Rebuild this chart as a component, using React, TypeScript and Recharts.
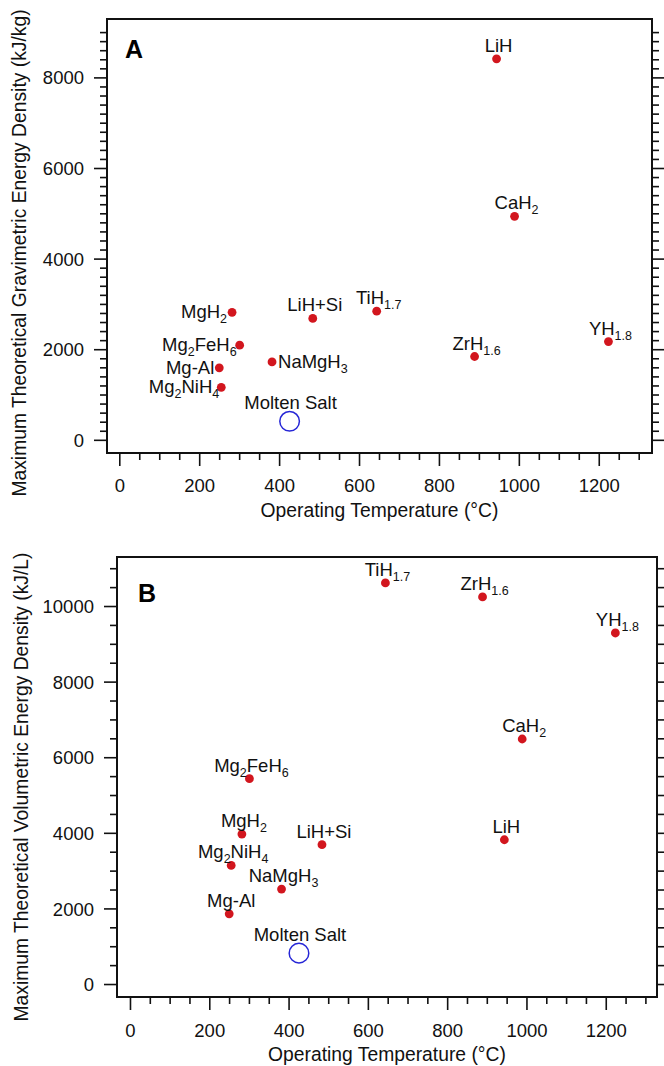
import React from 'react';
import { ScatterChart, Scatter, XAxis, YAxis } from 'recharts';

// ---------- data ----------
const materials = ['LiH', 'CaH_2', 'MgH_2', 'LiH+Si', 'TiH_{1.7}', 'Mg_2FeH_6', 'Mg-Al', 'NaMgH_3', 'Mg_2NiH_4', 'YH_{1.8}', 'ZrH_{1.6}'];
const temperatures = [943, 988, 281, 483, 643, 300, 249, 381, 254, 1223, 888]; // °C
const gravimetric = [8420, 4945, 2825, 2690, 2850, 2100, 1600, 1730, 1170, 2180, 1850]; // kJ/kg
const volumetric = [3830, 6495, 3980, 3700, 10625, 5445, 1870, 2525, 3150, 9300, 10255]; // kJ/L

const referenceName = ['Molten Salt'];
const referenceTemperature = [425];
const referenceGravimetric = [420];
const referenceVolumetric = [830];

const temperatureTickLabels = [0, 200, 400, 600, 800, 1000, 1200];
const gravimetricTickLabels = [0, 2000, 4000, 6000, 8000];
const volumetricTickLabels = [0, 2000, 4000, 6000, 8000, 10000];

// minor tick steps (axis decoration)
const temperatureMinorStep = 50;
const temperatureMinorMax = 1300;
const gravimetricMinorStep = 200;
const gravimetricMinorMax = 9000;
const volumetricMinorStep = 500;
const volumetricMinorMax = 11000;

// ---------- styling ----------
const FONT = '"Liberation Sans", Arial, Helvetica, sans-serif';
const INK = '#111111';
const RED = '#d2161e';
const BLUE = '#2626d6';
const TICK_FS = 18.5;
const LABEL_FS = 18.5;
const SUB_FS = 12.5;
const TITLE_FS = 19.3;
const AXIS_LINE = { stroke: INK, strokeWidth: 2, strokeLinecap: 'square' };

// label placement for panel A (all labels sit above the marker in panel B)
const labelSideA: Record<string, string> = {
  'MgH_2': 'left',
  'Mg_2FeH_6': 'left',
  'Mg-Al': 'left',
  'Mg_2NiH_4': 'left',
  'NaMgH_3': 'right',
};
// small horizontal nudges for side labels in panel A
const labelNudgeA: Record<string, number> = {
  'Mg_2FeH_6': 2,
  'Mg_2NiH_4': 3,
};

function stepTicks(max: number, step: number) {
  const out: number[] = [];
  for (let v = 0; v <= max + 1e-9; v += step) out.push(v);
  return out;
}

function parseRich(s: string) {
  const parts: { t: string; sub: boolean }[] = [];
  const re = /_\{([^}]*)\}|_(.)/g;
  let last = 0;
  let m: RegExpExecArray | null;
  while ((m = re.exec(s))) {
    if (m.index > last) parts.push({ t: s.slice(last, m.index), sub: false });
    parts.push({ t: (m[1] ?? m[2]) as string, sub: true });
    last = re.lastIndex;
  }
  if (last < s.length) parts.push({ t: s.slice(last), sub: false });
  return parts;
}

function RichLabel({ x, y, anchor, text }: any) {
  const parts = parseRich(text);
  let prevSub = false;
  return (
    <text x={x} y={y} textAnchor={anchor} fontFamily={FONT} fontSize={LABEL_FS} fill={INK}>
      {parts.map((p, i) => {
        let dy = 0;
        if (p.sub && !prevSub) dy = 5;
        if (!p.sub && prevSub) dy = -5;
        prevSub = p.sub;
        return (
          <tspan key={i} dy={dy} fontSize={p.sub ? SUB_FS : LABEL_FS}>
            {p.t}
          </tspan>
        );
      })}
    </text>
  );
}

function MaterialMark(props: any) {
  const { cx, cy, payload } = props;
  if (cx == null || cy == null) return null;
  const side = payload.side;
  const nudge = payload.nudge || 0;
  let lx = cx + 2;
  let ly = cy - 7;
  let anchor = 'middle';
  if (side === 'left') {
    lx = cx - 5 + nudge;
    ly = cy + 6;
    anchor = 'end';
  } else if (side === 'right') {
    lx = cx + 6;
    ly = cy + 6;
    anchor = 'start';
  }
  return (
    <g>
      <circle cx={cx} cy={cy} r={4.4} fill={RED} />
      <RichLabel x={lx} y={ly} anchor={anchor} text={payload.name} />
    </g>
  );
}

function ReferenceMark(props: any) {
  const { cx, cy, payload } = props;
  if (cx == null || cy == null) return null;
  return (
    <g>
      <circle cx={cx} cy={cy} r={9.8} fill="none" stroke={BLUE} strokeWidth={1.5} />
      <RichLabel x={cx + 1} y={cy - 12.5} anchor="middle" text={payload.name} />
    </g>
  );
}

const MAJOR = 13;
const MINOR = 7;
const TOP_LEN = 8;

function BottomTick(props: any) {
  const { x, y, payload, majors, gap } = props;
  const v = payload.value;
  const major = majors.includes(v);
  return (
    <g>
      <line x1={x} y1={y} x2={x} y2={y + (major ? MAJOR : MINOR)} stroke={INK} strokeWidth={1.6} />
      {major && (
        <text x={x} y={y + gap} textAnchor="middle" fontFamily={FONT} fontSize={TICK_FS} fill={INK}>
          {v}
        </text>
      )}
    </g>
  );
}

function TopTick(props: any) {
  const { x, y } = props;
  return <line x1={x} y1={y} x2={x} y2={y - TOP_LEN} stroke={INK} strokeWidth={1.6} />;
}

function LeftTick(props: any) {
  const { x, y, payload, majors } = props;
  const v = payload.value;
  const major = majors.includes(v);
  return (
    <g>
      <line x1={x - (major ? MAJOR : MINOR)} y1={y} x2={x} y2={y} stroke={INK} strokeWidth={1.6} />
      {major && (
        <text x={x - 23} y={y + 6.6} textAnchor="end" fontFamily={FONT} fontSize={TICK_FS} fill={INK}>
          {v}
        </text>
      )}
    </g>
  );
}

function RightTick(props: any) {
  const { x, y, payload, majors } = props;
  const major = majors.includes(payload.value);
  return <line x1={x} y1={y} x2={x + (major ? MAJOR : MINOR)} y2={y} stroke={INK} strokeWidth={1.6} />;
}

function Panel(props: any) {
  const {
    height, topH, plotH, leftW, plotW, xDomain, yDomain, yMinor, yMajor, data, refData,
    yTitle, yTitleX, yTitleY, letter, letterX, letterY, xTitleY, tickGap,
  } = props;
  const bottomH = height - topH - plotH;
  const rightW = 664 - leftW - plotW;
  const xMinor = stepTicks(temperatureMinorMax, temperatureMinorStep);
  const xTitleX = leftW + plotW / 2;
  return (
    <ScatterChart width={664} height={height} margin={{ top: 0, right: 0, bottom: 0, left: 0 }}>
      <XAxis
        xAxisId="b"
        type="number"
        dataKey="x"
        orientation="bottom"
        domain={xDomain}
        allowDataOverflow
        ticks={xMinor}
        interval={0}
        height={bottomH}
        tickSize={0}
        tickMargin={0}
        tickLine={false}
        axisLine={AXIS_LINE}
        tick={(p: any) => <BottomTick {...p} majors={temperatureTickLabels} gap={tickGap} />}
        label={{
          content: () => (
            <text x={xTitleX} y={xTitleY} textAnchor="middle" fontFamily={FONT} fontSize={TITLE_FS} fill={INK}>
              Operating Temperature (°C)
            </text>
          ),
        }}
      />
      <XAxis
        xAxisId="t"
        type="number"
        orientation="top"
        domain={xDomain}
        allowDataOverflow
        ticks={xMinor}
        interval={0}
        height={topH}
        tickSize={0}
        tickMargin={0}
        tickLine={false}
        axisLine={AXIS_LINE}
        tick={(p: any) => <TopTick {...p} />}
      />
      <YAxis
        yAxisId="l"
        type="number"
        dataKey="y"
        orientation="left"
        domain={yDomain}
        allowDataOverflow
        ticks={yMinor}
        interval={0}
        width={leftW}
        tickSize={0}
        tickMargin={0}
        tickLine={false}
        axisLine={AXIS_LINE}
        tick={(p: any) => <LeftTick {...p} majors={yMajor} />}
        label={{
          content: () => (
            <g>
              <text
                transform={`translate(${yTitleX},${yTitleY}) rotate(-90)`}
                textAnchor="middle"
                fontFamily={FONT}
                fontSize={TITLE_FS}
                fill={INK}
              >
                {yTitle}
              </text>
              <text x={letterX} y={letterY} fontFamily={FONT} fontSize={25} fontWeight="bold" fill="#000">
                {letter}
              </text>
            </g>
          ),
        }}
      />
      <YAxis
        yAxisId="r"
        type="number"
        orientation="right"
        domain={yDomain}
        allowDataOverflow
        ticks={yMinor}
        interval={0}
        width={rightW}
        tickSize={0}
        tickMargin={0}
        tickLine={false}
        axisLine={AXIS_LINE}
        tick={(p: any) => <RightTick {...p} majors={yMajor} />}
      />
      <Scatter data={data} xAxisId="b" yAxisId="l" shape={(p: any) => <MaterialMark {...p} />} isAnimationActive={false} />
      <Scatter data={refData} xAxisId="b" yAxisId="l" shape={(p: any) => <ReferenceMark {...p} />} isAnimationActive={false} />
    </ScatterChart>
  );
}

export default function App() {
  const dataA = materials.map((m, i) => ({
    name: m,
    x: temperatures[i],
    y: gravimetric[i],
    side: labelSideA[m] ?? 'top',
    nudge: labelNudgeA[m] ?? 0,
  }));
  const dataB = materials.map((m, i) => ({ name: m, x: temperatures[i], y: volumetric[i], side: 'top', nudge: 0 }));
  const refA = referenceName.map((m, i) => ({ name: m, x: referenceTemperature[i], y: referenceGravimetric[i] }));
  const refB = referenceName.map((m, i) => ({ name: m, x: referenceTemperature[i], y: referenceVolumetric[i] }));

  return (
    <div style={{ position: 'absolute', left: 0, top: 0, width: 664, height: 1066, background: '#fff', overflow: 'hidden' }}>
      <div style={{ position: 'absolute', left: 0, top: 0 }}>
        <Panel
          height={530}
          topH={19}
          plotH={434}
          leftW={107}
          plotW={545}
          xDomain={[-32, 1332]}
          yDomain={[-280, 9300]}
          yMinor={stepTicks(gravimetricMinorMax, gravimetricMinorStep)}
          yMajor={gravimetricTickLabels}
          data={dataA}
          refData={refA}
          yTitle="Maximum Theoretical Gravimetric Energy Density (kJ/kg)"
          yTitleX={26}
          yTitleY={253}
          letter="A"
          letterX={125}
          letterY={58}
          xTitleY={517}
          tickGap={38.5}
        />
      </div>
      <div style={{ position: 'absolute', left: 0, top: 530 }}>
        <Panel
          height={536}
          topH={27}
          plotH={440}
          leftW={117}
          plotW={540}
          xDomain={[-34, 1328]}
          yDomain={[-330, 11310]}
          yMinor={stepTicks(volumetricMinorMax, volumetricMinorStep)}
          yMajor={volumetricTickLabels}
          data={dataB}
          refData={refB}
          yTitle="Maximum Theoretical Volumetric Energy Density (kJ/L)"
          yTitleX={28}
          yTitleY={257}
          letter="B"
          letterX={138}
          letterY={72}
          xTitleY={531}
          tickGap={40}
        />
      </div>
    </div>
  );
}
